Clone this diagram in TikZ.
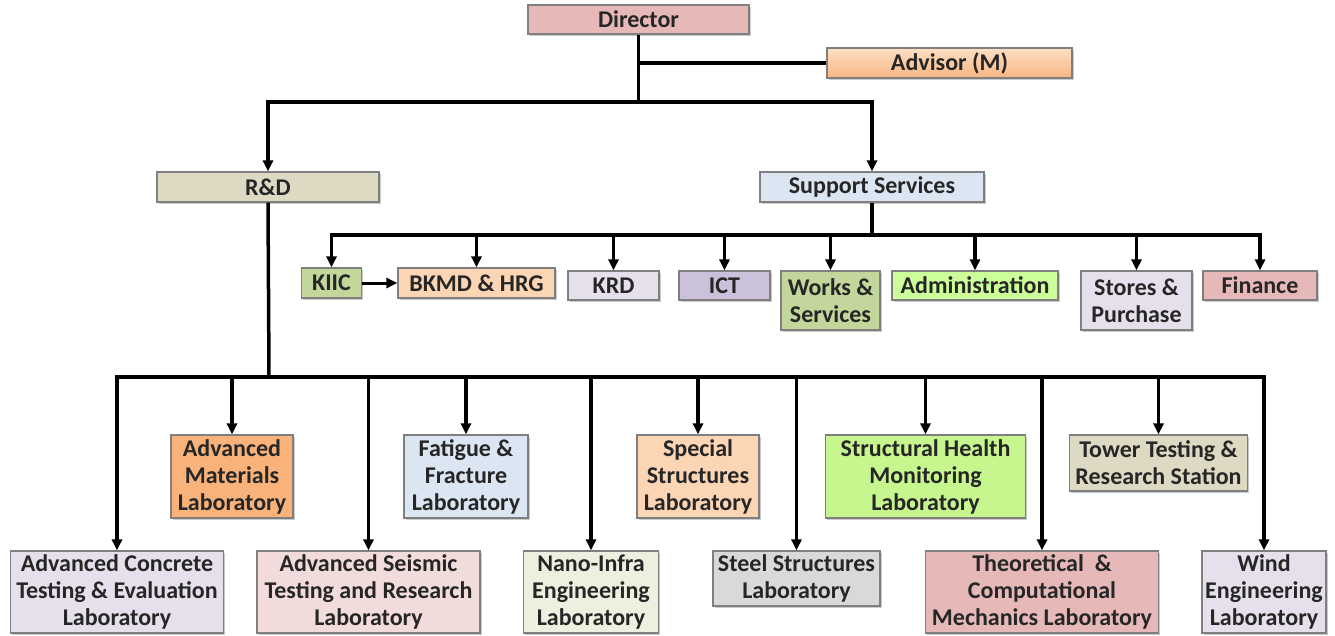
\documentclass[tikz,border=0pt]{standalone}
\usepackage{fontspec}
\setmainfont{Carlito}
\usetikzlibrary{arrows.meta,shadows}
\definecolor{cdir}{HTML}{E6B9B8}
\definecolor{cadvT}{HTML}{FDDFC4}
\definecolor{cadvB}{HTML}{F8B582}
\definecolor{crd}{HTML}{DDD9C3}
\definecolor{css}{HTML}{DCE6F2}
\definecolor{ckiic}{HTML}{C3D69B}
\definecolor{cpeach}{HTML}{FCD5B5}
\definecolor{clav}{HTML}{E6E0EC}
\definecolor{cict}{HTML}{CCC1DA}
\definecolor{cadmin}{HTML}{CCFF99}
\definecolor{corange}{HTML}{F9B37A}
\definecolor{cpink}{HTML}{F2DCDB}
\definecolor{cnano}{HTML}{EBF1DE}
\definecolor{cgray}{HTML}{D9D9D9}
\definecolor{cshm}{HTML}{C6F68D}
\definecolor{cborder}{HTML}{7F7F7F}
\tikzset{
  box/.style={draw=cborder, line width=1.2pt, inner sep=0pt, align=center,
    font=\fontsize{24}{27}\selectfont\bfseries, text=black!85,
    drop shadow={shadow xshift=1.5pt, shadow yshift=-1.8pt, opacity=0.35, fill=black!60}},
  sz/.style 2 args={minimum width=#1pt, minimum height=#2pt},
  conn/.style={line width=3.5pt, line join=miter},
  arr/.style={conn, -{Triangle[length=11pt,width=10pt]}},
}
\begin{document}
\begin{tikzpicture}[x=1pt,y=-1pt]
\useasboundingbox (0,0) rectangle (1335,635);
% top level
\node[box, fill=cdir, sz={221}{29}] (dir) at (638.5,19.5) {Director};
\node[box, top color=cadvT, bottom color=cadvB, sz={245}{30}] (adv) at (949.5,63) {Advisor (M)};
\node[box, fill=crd, sz={222}{30}] (rd) at (268,187) {R\&D};
\node[box, fill=css, sz={224}{30}] (ss) at (872,187) {Support Services};
% support row
\node[box, fill=ckiic, sz={60}{30}] (kiic) at (331.5,283) {KIIC};
\node[box, fill=cpeach, sz={157}{30}] (bkmd) at (476.5,283) {BKMD \& HRG};
\node[box, fill=clav, sz={91}{29}] (krd) at (613.5,285.5) {KRD};
\node[box, fill=cict, sz={91}{29}] (ict) at (724.5,285.5) {ICT};
\node[box, fill=ckiic, sz={99}{59}] (works) at (830.5,300.5) {Works \&\\Services};
\node[box, fill=cadmin, sz={166}{29}] (admin) at (975,285.5) {Administration};
\node[box, fill=clav, sz={111}{59}] (stores) at (1136.5,300.5) {Stores \&\\Purchase};
\node[box, fill=cdir, sz={114}{29}] (fin) at (1260,285.5) {Finance};
% lab row 1
\node[box, fill=corange, sz={122}{83}] (amat) at (232,476.5) {Advanced\\Materials\\Laboratory};
\node[box, fill=css, sz={124}{83}] (fat) at (466,476.5) {Fatigue \&\\Fracture\\Laboratory};
\node[box, fill=cpeach, sz={122}{83}] (spec) at (698,476.5) {Special\\Structures\\Laboratory};
\node[box, fill=cshm, sz={200}{83}] (shm) at (925.5,476.5) {Structural Health\\Monitoring\\Laboratory};
\node[box, fill=crd, sz={178}{56}] (tow) at (1158.5,463) {Tower Testing \&\\Research Station};
% lab row 2
\node[box, fill=clav, sz={213}{82}] (acon) at (117,592) {Advanced Concrete\\Testing \& Evaluation\\Laboratory};
\node[box, fill=cpink, sz={223}{82}] (aseis) at (368.5,592) {Advanced Seismic\\Testing and Research\\Laboratory};
\node[box, fill=cnano, sz={135}{82}] (nano) at (591,592) {Nano-Infra\\Engineering\\Laboratory};
\node[box, fill=cgray, sz={167}{55}] (steel) at (796.5,578.5) {Steel Structures\\Laboratory};
\node[box, fill=cdir, sz={233}{82}] (theo) at (1042,592) {Theoretical~~\&\\Computational\\Mechanics Laboratory};
\node[box, fill=clav, sz={124}{82}] (wind) at (1264,592) {Wind\\Engineering\\Laboratory};
% junction coordinates
\coordinate (tb) at (638.5,102);
\coordinate (sb) at (872,235);
\coordinate (lb) at (269,377);
% connectors top
\draw[conn] (dir.south) -- (tb);
\draw[conn] (dir.south |- adv.west) -- (adv.west);
\draw[arr] (tb) -| (rd.north);
\draw[arr] (tb) -| (ss.north);
% support services
\draw[conn] (ss.south) -- (sb);
\foreach \n in {kiic,bkmd,krd,ict,works,admin,stores,fin}
  \draw[arr] (sb) -| (\n.north);
\draw[arr, line width=3pt] (kiic.east) -- (bkmd.west);
% labs
\draw[conn] (rd.south) -- (lb);
\foreach \n in {amat,fat,spec,shm,tow,acon,aseis,nano,steel,theo,wind}
  \draw[arr] (lb) -| (\n.north);
\end{tikzpicture}
\end{document}
